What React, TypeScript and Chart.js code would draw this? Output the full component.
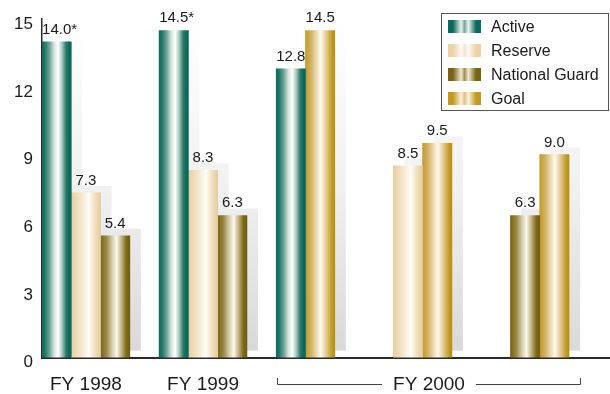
import React, { useEffect, useRef } from "react";
import { Chart, registerables } from "chart.js";

Chart.register(...registerables);

// ---- data ----
const seriesNames = ["Active", "Reserve", "National Guard", "Goal"];
const yearLabels = ["FY 1998", "FY 1999", "FY 2000"];
// Active, Reserve, National Guard
const fy1998 = [14.0, 7.3, 5.4];
const fy1999 = [14.5, 8.3, 6.3];
const fy2000 = [12.8, 8.5, 6.3];
const fy2000Goal = [14.5, 9.5, 9.0];
// footnote marks on the Active values for FY 1998 and FY 1999
const fy1998Marks = ["*", "", ""];
const fy1999Marks = ["*", "", ""];
const yTicks = [0, 3, 6, 9, 12, 15];

// ---- styling ----
const FONT = '"Liberation Sans", Arial, Helvetica, sans-serif';
const TEXT = "#1a1a1a";
const SLOTS_PER_GROUP = 4;
const X_MAX = 19.4;
const SHADOW_DX = 11;
const SHADOW_DY = 7;

type Stop = [number, string];
const barStops: Stop[][] = [
  [
    [0, "#0b6b5a"], [0.1, "#22776a"], [0.25, "#6d9f92"], [0.42, "#d4e6df"],
    [0.55, "#ffffff"], [0.68, "#a9c9c0"], [0.82, "#2f7b69"], [0.92, "#0b6b5a"], [1, "#0a6656"],
  ],
  [
    [0, "#e8cfa4"], [0.3, "#f3e4c9"], [0.6, "#fffdf8"], [0.8, "#f1e0c2"], [1, "#e6cc9e"],
  ],
  [
    [0, "#7a6513"], [0.2, "#9a8848"], [0.4, "#d8cfae"], [0.55, "#fbf8ee"],
    [0.7, "#c6b88a"], [0.88, "#7d6a1a"], [1, "#6f5c0e"],
  ],
  [
    [0, "#c39a2c"], [0.2, "#d4b468"], [0.4, "#efe0bc"], [0.52, "#fffaf0"],
    [0.7, "#e3cc92"], [0.9, "#c29a2a"], [1, "#b8900e"],
  ],
];
// legend swatch colours: edge, highlight, middle
const swatchColors = [
  ["#0b6b5a", "#e8f2ee", "#7aa99d"],
  ["#ead3a8", "#fff9f6", "#f3e6d2"],
  ["#786414", "#efe9d2", "#a39256"],
  ["#c39a20", "#fbf3df", "#dcc388"],
];

type Pt = { x: number; y: number; mark: string };

// place the bars: FY 1998 and FY 1999 groups hold three bars each,
// FY 2000 is split into three actual/goal pairs
function buildSeries(): Pt[][] {
  const out: Pt[][] = seriesNames.map(() => []);
  [fy1998, fy1999].forEach((vals, g) => {
    const marks = g === 0 ? fy1998Marks : fy1999Marks;
    vals.forEach((v, s) => {
      out[s].push({ x: g * SLOTS_PER_GROUP + s + 0.5, y: v, mark: marks[s] });
    });
  });
  fy2000.forEach((v, s) => {
    const start = (2 + s) * SLOTS_PER_GROUP;
    out[s].push({ x: start + 0.5, y: v, mark: "" });
    out[3].push({ x: start + 1.5, y: fy2000Goal[s], mark: "" });
  });
  return out;
}

const barFill = (stops: Stop[]) => (c: any) => {
  const chart = c.chart;
  const xs = chart.scales && chart.scales.x;
  const raw = c.raw;
  if (!xs || !raw || c.type !== "data") return stops[0][1];
  const left = xs.getPixelForValue(raw.x - 0.5);
  const right = xs.getPixelForValue(raw.x + 0.5);
  if (!isFinite(left) || !isFinite(right) || right <= left) return stops[0][1];
  const g = chart.ctx.createLinearGradient(left, 0, right, 0);
  stops.forEach(([o, col]) => g.addColorStop(o, col));
  return g;
};

// soft grey depth shadows behind every bar
const shadowPlugin = {
  id: "barShadows",
  beforeDatasetsDraw(chart: any) {
    const { ctx, chartArea } = chart;
    const grad = ctx.createLinearGradient(0, chartArea.top, 0, chartArea.bottom - SHADOW_DY);
    grad.addColorStop(0, "#ffffff");
    grad.addColorStop(0.5, "#f1f1f1");
    grad.addColorStop(1, "#d9d9d9");
    ctx.save();
    ctx.fillStyle = grad;
    chart.data.datasets.forEach((_: any, i: number) => {
      const meta = chart.getDatasetMeta(i);
      meta.data.forEach((el: any) => {
        const { x, y, base, width } = el.getProps(["x", "y", "base", "width"], true);
        ctx.fillRect(x - width / 2 + SHADOW_DX, y - SHADOW_DY, width, base - y);
      });
    });
    ctx.restore();
  },
};

// value labels above the bars
const valueLabelPlugin = {
  id: "valueLabels",
  afterDatasetsDraw(chart: any) {
    const { ctx } = chart;
    ctx.save();
    ctx.font = `15px ${FONT}`;
    ctx.fillStyle = TEXT;
    ctx.textBaseline = "alphabetic";
    chart.data.datasets.forEach((ds: any, i: number) => {
      const meta = chart.getDatasetMeta(i);
      meta.data.forEach((el: any, j: number) => {
        const p: Pt = ds.data[j];
        const num = p.y.toFixed(1);
        const ty = el.y - 8;
        ctx.textAlign = "center";
        ctx.fillText(num, el.x, ty);
        if (p.mark) {
          ctx.textAlign = "left";
          ctx.fillText(p.mark, el.x + ctx.measureText(num).width / 2, ty);
        }
      });
    });
    ctx.restore();
  },
};

// year labels under the axis, with the FY 2000 bracket
const yearLabelPlugin = {
  id: "yearLabels",
  afterDraw(chart: any) {
    const { ctx } = chart;
    const xs = chart.scales.x;
    const baseY = 390;
    ctx.save();
    ctx.font = `19px ${FONT}`;
    ctx.fillStyle = TEXT;
    ctx.textAlign = "center";
    ctx.textBaseline = "alphabetic";
    [0, 1].forEach((g) => {
      const cx = xs.getPixelForValue(g * SLOTS_PER_GROUP + 1.5);
      ctx.fillText(yearLabels[g], cx, baseY);
    });
    const left = Math.round(xs.getPixelForValue(2 * SLOTS_PER_GROUP)) + 1.5;
    const right = Math.round(xs.getPixelForValue(4 * SLOTS_PER_GROUP + 2)) + SHADOW_DX + 0.5;
    const mid = (left + right) / 2;
    ctx.fillText(yearLabels[2], mid, baseY);
    const half = ctx.measureText(yearLabels[2]).width / 2;
    const ly = 384.5;
    ctx.strokeStyle = "#444";
    ctx.lineWidth = 1;
    ctx.beginPath();
    ctx.moveTo(left, 378);
    ctx.lineTo(left, ly);
    ctx.lineTo(mid - half - 11, ly);
    ctx.moveTo(mid + half + 11, ly);
    ctx.lineTo(right, ly);
    ctx.lineTo(right, 378);
    ctx.stroke();
    ctx.restore();
  },
};

// boxed legend in the upper right
const legendPlugin = {
  id: "boxLegend",
  afterDraw(chart: any) {
    const { ctx } = chart;
    const bx = 441.5, by = 13.5, bw = 167, bh = 97;
    ctx.save();
    ctx.fillStyle = "#ffffff";
    ctx.fillRect(bx, by, bw, bh);
    ctx.strokeStyle = "#555";
    ctx.lineWidth = 1;
    ctx.strokeRect(bx, by, bw, bh);
    ctx.font = `16px ${FONT}`;
    ctx.textAlign = "left";
    ctx.textBaseline = "middle";
    seriesNames.forEach((name, i) => {
      const cy = by + 13 + i * 24;
      const sx = 448, sw = 33, sh = 13;
      const [edge, light, mid] = swatchColors[i];
      const g = ctx.createLinearGradient(sx, 0, sx + sw, 0);
      g.addColorStop(0, edge);
      g.addColorStop(0.15, edge);
      g.addColorStop(0.4, light);
      g.addColorStop(0.5, mid);
      g.addColorStop(0.62, light);
      g.addColorStop(0.85, edge);
      g.addColorStop(1, edge);
      ctx.fillStyle = g;
      ctx.fillRect(sx, cy - sh / 2, sw, sh);
      ctx.fillStyle = TEXT;
      ctx.fillText(name, 491, cy + 1);
    });
    ctx.restore();
  },
};

export default function App() {
  const canvasRef = useRef<HTMLCanvasElement | null>(null);

  useEffect(() => {
    const canvas = canvasRef.current;
    if (!canvas) return;
    const series = buildSeries();
    const chart = new Chart(canvas, {
      type: "bar",
      data: {
        datasets: seriesNames.map((name, i) => ({
          label: name,
          data: series[i] as any,
          backgroundColor: barFill(barStops[i]) as any,
          borderWidth: 0,
          grouped: false,
          categoryPercentage: 1,
          barPercentage: 1,
        })),
      },
      options: {
        animation: false,
        responsive: false,
        devicePixelRatio: 1,
        parsing: { xAxisKey: "x", yAxisKey: "y" },
        layout: { padding: { top: 11.4, left: 0, right: 0, bottom: 0 } },
        plugins: {
          legend: { display: false },
          tooltip: { enabled: false },
        },
        scales: {
          x: {
            type: "linear",
            min: 0,
            max: X_MAX,
            offset: false,
            bounds: "data",
            grid: { display: false, drawTicks: false, offset: false },
            border: { display: true, color: "#2a2a2a", width: 2 },
            ticks: { display: false, stepSize: 20 },
            afterFit: (s: any) => {
              s.height = 36.4;
              s.paddingLeft = 0;
              s.paddingRight = 0;
            },
          },
          y: {
            min: 0,
            max: 15,
            grid: { display: false, drawTicks: false },
            border: { display: true, color: "#2a2a2a", width: 1.5 },
            afterBuildTicks: (s: any) => {
              s.ticks = yTicks.map((v) => ({ value: v }));
            },
            ticks: {
              color: TEXT,
              font: { family: FONT, size: 17 },
              padding: 9,
              labelOffset: 5,
              callback: (v: any) => String(v),
            },
            afterFit: (s: any) => {
              s.width = 42;
            },
          },
        },
      } as any,
      plugins: [shadowPlugin, valueLabelPlugin, yearLabelPlugin, legendPlugin],
    });
    return () => chart.destroy();
  }, []);

  return (
    <div
      style={{
        position: "fixed",
        left: 0,
        top: 0,
        width: 610,
        height: 394,
        background: "#ffffff",
      }}
    >
      <canvas ref={canvasRef} width={610} height={394} style={{ display: "block" }} />
    </div>
  );
}
